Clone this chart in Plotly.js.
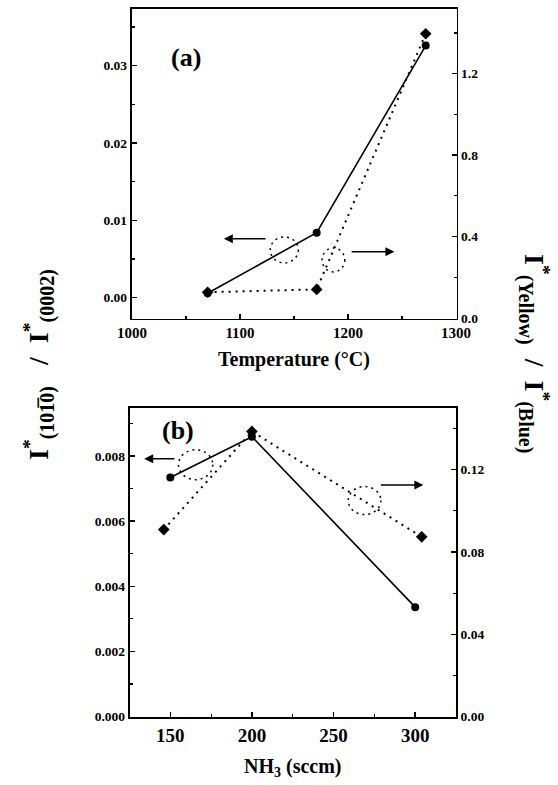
<!DOCTYPE html>
<html>
<head>
<meta charset="utf-8">
<script src="https://cdn.plot.ly/plotly-3.0.1.min.js"></script>
<style>html,body{margin:0;padding:0;background:#fff;}#chart{width:558px;height:785px;}</style>
</head>
<body>
<div id="chart"></div>
<script>
// Panel (a): temperature series
const tempSolid = [1070, 1171, 1272];
const ratioA = [0.00057, 0.0084, 0.0326];          // I*(10-10)/I*(0002), left axis
const tempDotted = [1070, 1171, 1272];
const yellowBlueA = [0.126, 0.14, 1.396];          // I*(Yellow)/I*(Blue), right axis

// Panel (b): NH3 flow series
const nh3Solid = [150, 200, 300];
const ratioB = [0.00734, 0.00859, 0.00336];
const nh3Dotted = [146, 200, 304];
const yellowBlueB = [0.0909, 0.1386, 0.0874];

const black = '#000';
const serif = 'Liberation Serif, Times New Roman, serif';
const tickFont = {family: serif, size: 13.5, color: black, weight: 'bold'};

const traces = [
  {x: tempSolid, y: ratioA, xaxis: 'x', yaxis: 'y', mode: 'lines+markers',
   line: {color: black, width: 1.6}, marker: {symbol: 'circle', size: 8, color: black}},
  {x: tempDotted, y: yellowBlueA, xaxis: 'x', yaxis: 'y2', mode: 'lines+markers',
   line: {color: black, width: 2, dash: '2px,5px'}, marker: {symbol: 'diamond', size: 9, color: black}},
  {x: nh3Solid, y: ratioB, xaxis: 'x2', yaxis: 'y3', mode: 'lines+markers',
   line: {color: black, width: 1.6}, marker: {symbol: 'circle', size: 8, color: black}},
  {x: nh3Dotted, y: yellowBlueB, xaxis: 'x2', yaxis: 'y4', mode: 'lines+markers',
   line: {color: black, width: 2, dash: '2px,5px'}, marker: {symbol: 'diamond', size: 9, color: black}}
];

function minorTicks(d) {
  return {ticks: 'inside', ticklen: 3, tickwidth: 1.2, tickcolor: black, dtick: d, showgrid: false};
}
function axisBase(extra) {
  return Object.assign({
    showline: true, linecolor: black, linewidth: 1.8, ticks: 'inside', ticklen: 5,
    tickwidth: 1.5, tickcolor: black, showgrid: false, zeroline: false, tickfont: tickFont
  }, extra);
}

const W = 558, H = 785;
const titleFont = {family: serif, size: 20, color: black, weight: 'bold'};
const sub = s => '<sub><span style="font-size:20px">' + s + '</span></sub>';
const leftTitle = 'I<sup>*</sup>' + sub('(101\u03050)') + '   /  I<sup>*</sup>' + sub('(0002)');
const rightTitle = 'I<sup>*</sup>' + sub('(Yellow)') + '  /  I<sup>*</sup>' + sub('(Blue)');

const layout = {
  width: W, height: H, margin: {l: 0, r: 0, t: 0, b: 0},
  paper_bgcolor: '#fff', plot_bgcolor: '#fff', showlegend: false,
  xaxis: axisBase({domain: [131.5 / W, 456.5 / W], anchor: 'y', range: [999.5, 1300.5],
    dtick: 100, tick0: 1000, mirror: true, minor: minorTicks(50),
    tickfont: {family: serif, size: 15, color: black, weight: 'bold'},
    title: {text: 'Temperature (°C)', font: titleFont, standoff: 12}}),
  yaxis: axisBase({domain: [1 - 318.5 / H, 1 - 8.5 / H], anchor: 'x', range: [-0.0027, 0.0374],
    dtick: 0.01, tick0: 0, tickformat: '.2f', minor: minorTicks(0.005)}),
  yaxis2: axisBase({overlaying: 'y', side: 'right', anchor: 'x', range: [-0.003, 1.52],
    dtick: 0.4, tick0: 0, tickformat: '.1f', minor: minorTicks(0.2)}),
  xaxis2: axisBase({domain: [129.5 / W, 456 / W], anchor: 'y3', range: [125, 325],
    dtick: 50, tick0: 0, mirror: true, tickfont: {family: serif, size: 19, color: black, weight: 'bold'},
    minor: minorTicks(25),
    title: {text: 'NH<sub>3</sub> (sccm)', font: titleFont, standoff: 14}}),
  yaxis3: axisBase({domain: [1 - 717.3 / H, 1 - 408 / H], anchor: 'x2', range: [-0.00002, 0.00947],
    dtick: 0.002, tick0: 0, tickformat: '.3f', minor: minorTicks(0.001)}),
  yaxis4: axisBase({overlaying: 'y3', side: 'right', anchor: 'x2', range: [-0.0003, 0.150],
    dtick: 0.04, tick0: 0, tickformat: '.2f', minor: minorTicks(0.02)}),
  shapes: [
    {type: 'circle', xref: 'x', yref: 'y', x0: 1128, x1: 1154, y0: 0.00449, y1: 0.00785,
     line: {color: black, width: 1.5, dash: '2px,4px'}},
    {type: 'circle', xref: 'x', yref: 'y', x0: 1176, x1: 1197, y0: 0.00332, y1: 0.00643,
     line: {color: black, width: 1.5, dash: '2px,4px'}},
    {type: 'circle', xref: 'x2', yref: 'y3', x0: 155, x1: 176, y0: 0.00727, y1: 0.00819,
     line: {color: black, width: 1.5, dash: '2px,4px'}},
    {type: 'circle', xref: 'x2', yref: 'y3', x0: 259, x1: 279, y0: 0.0062, y1: 0.00706,
     line: {color: black, width: 1.5, dash: '2px,4px'}}
  ],
  annotations: [
    // arrows
    {xref: 'x', yref: 'y', axref: 'x', ayref: 'y', x: 1085, y: 0.0076, ax: 1125, ay: 0.0076,
     text: '', showarrow: true, arrowhead: 2, arrowsize: 1.2, arrowwidth: 1.5, arrowcolor: black},
    {xref: 'x', yref: 'y', axref: 'x', ayref: 'y', x: 1243, y: 0.00595, ax: 1202, ay: 0.00595,
     text: '', showarrow: true, arrowhead: 2, arrowsize: 1.2, arrowwidth: 1.5, arrowcolor: black},
    {xref: 'x2', yref: 'y3', axref: 'x2', ayref: 'y3', x: 134, y: 0.00791, ax: 153.5, ay: 0.00791,
     text: '', showarrow: true, arrowhead: 2, arrowsize: 1.2, arrowwidth: 1.5, arrowcolor: black},
    {xref: 'x2', yref: 'y3', axref: 'x2', ayref: 'y3', x: 305, y: 0.00711, ax: 278, ay: 0.00711,
     text: '', showarrow: true, arrowhead: 2, arrowsize: 1.2, arrowwidth: 1.5, arrowcolor: black},
    // panel labels
    {xref: 'paper', yref: 'paper', x: 169 / W, y: 1 - 41 / H, text: '(a)', showarrow: false,
     font: {family: serif, size: 26, color: black, weight: 'bold'}},
    {xref: 'paper', yref: 'paper', x: 160 / W, y: 1 - 430 / H, text: '(b)', showarrow: false,
     font: {family: serif, size: 26, color: black, weight: 'bold'}},
    // axis titles
    {xref: 'paper', yref: 'paper', x: 17 / W, y: 1 - 365 / H, textangle: -90, showarrow: false,
     text: leftTitle, font: {family: serif, size: 28, color: black, weight: 'bold'}},
    {xref: 'paper', yref: 'paper', x: 556 / W, y: 1 - 353 / H, textangle: 90, showarrow: false,
     text: rightTitle, font: {family: serif, size: 28, color: black, weight: 'bold'}}
  ]
};

Plotly.newPlot('chart', traces, layout, {displayModeBar: false, staticPlot: true});
</script>
</body>
</html>
